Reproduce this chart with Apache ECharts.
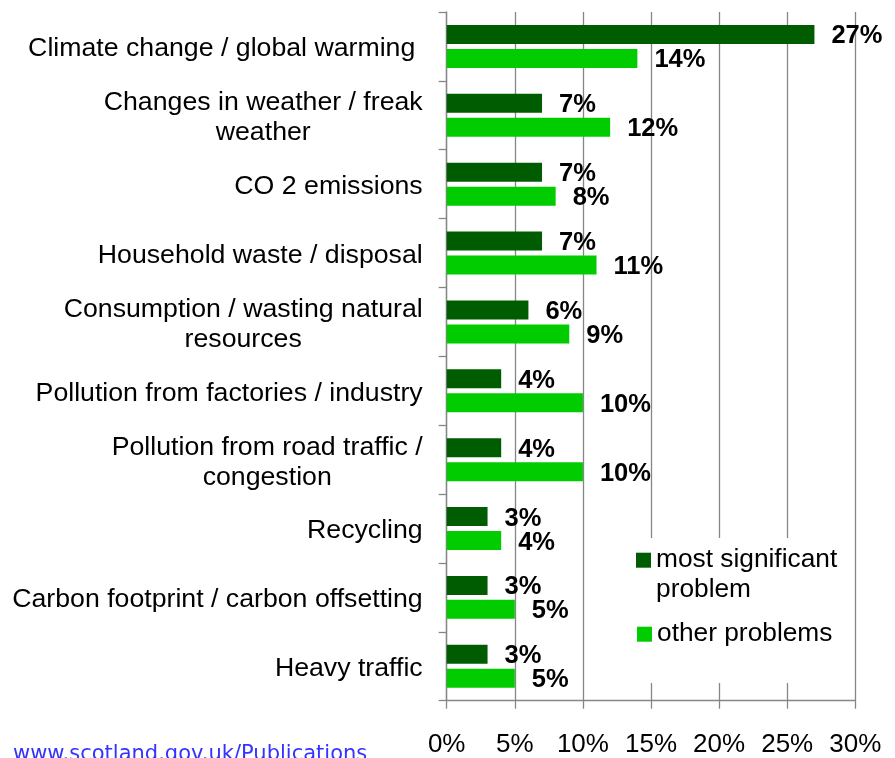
<!DOCTYPE html>
<html>
<head>
<meta charset="utf-8">
<script src="https://cdn.jsdelivr.net/npm/echarts@6/dist/echarts.min.js"></script>
<style>
html,body{margin:0;padding:0;background:#fff;}
#chart{width:895px;height:758px;}
</style>
</head>
<body>
<div id="chart"></div>
<script>
var categories = [
  'Climate change / global warming ',
  'Changes in weather / freak\nweather',
  'CO 2 emissions',
  'Household waste / disposal',
  'Consumption / wasting natural\nresources',
  'Pollution from factories / industry',
  'Pollution from road traffic /\ncongestion',
  'Recycling',
  'Carbon footprint / carbon offsetting',
  'Heavy traffic'
];
var mostSignificant = [27, 7, 7, 7, 6, 4, 4, 3, 3, 3];
var otherProblems   = [14, 12, 8, 11, 9, 10, 10, 4, 5, 5];
var seriesNames = ['most significant problem', 'other problems'];
var xTicks = { min: 0, max: 30, step: 5 };
var footerText = 'www.scotland.gov.uk/Publications';

var FONT = '"Liberation Sans", Arial, Helvetica, sans-serif';
var chart = echarts.init(document.getElementById('chart'), null, {renderer: 'canvas'});

var labelStyle = {
  show: true, position: 'right', distance: 17, offset: [0, 2],
  formatter: '{c}%', color: '#000', fontWeight: 'bold',
  fontSize: 25.5, fontFamily: FONT
};
var legendText = {color: '#000', fontSize: 26.3, lineHeight: 30, fontFamily: FONT};

chart.setOption({
  animation: false,
  backgroundColor: '#fff',
  grid: {left: 446.7, right: 39.7, top: 12, bottom: 57.3, containLabel: false},
  xAxis: {
    type: 'value', min: xTicks.min, max: xTicks.max, interval: xTicks.step,
    axisLine: {show: true, lineStyle: {color: '#868686', width: 1.3}},
    axisTick: {show: true, length: 8, lineStyle: {color: '#868686', width: 1.3}},
    splitLine: {show: true, lineStyle: {color: '#868686', width: 1.3}},
    axisLabel: {formatter: '{value}%', color: '#000', fontSize: 26, fontFamily: FONT, margin: 31}
  },
  yAxis: {
    type: 'category', data: categories, inverse: true,
    axisLine: {show: true, lineStyle: {color: '#868686', width: 1.3}},
    axisTick: {show: true, length: 8, lineStyle: {color: '#868686', width: 1.3}},
    splitLine: {show: false},
    axisLabel: {
      interval: 0, margin: 24, align: 'right', padding: [5, 0, 0, 0],
      formatter: function (v) {
        return v.split('\n').map(function (l) { return '{c|' + l + '}'; }).join('\n');
      },
      rich: {c: {align: 'center', color: '#000', fontSize: 26.7, lineHeight: 30, fontFamily: FONT}}
    }
  },
  legend: [
    {
      data: [seriesNames[0]], left: 636, top: 515.2, padding: 0,
      icon: 'rect', itemWidth: 15, itemHeight: 15, selectedMode: false,
      formatter: function () { return '\nmost significant\nproblem'; },
      textStyle: legendText
    },
    {
      data: [seriesNames[1]], left: 637, top: 619.2, padding: 0,
      icon: 'rect', itemWidth: 15, itemHeight: 15, selectedMode: false,
      textStyle: legendText
    }
  ],
  graphic: [
    {type: 'rect', left: 615, top: 538, z: 3, shape: {width: 234, height: 145}, style: {fill: '#fff'}},
    {type: 'text', left: 13, top: 744, z: 5,
     style: {text: footerText, fill: '#3333ff', font: '21px "DejaVu Sans", sans-serif'}}
  ],
  series: [
    {name: seriesNames[0], type: 'bar', data: mostSignificant, barWidth: 19, barGap: '26%',
     itemStyle: {color: '#005C00'}, label: labelStyle},
    {name: seriesNames[1], type: 'bar', data: otherProblems, barWidth: 19, barGap: '26%',
     itemStyle: {color: '#00CC00'}, label: labelStyle}
  ]
});
</script>
</body>
</html>
